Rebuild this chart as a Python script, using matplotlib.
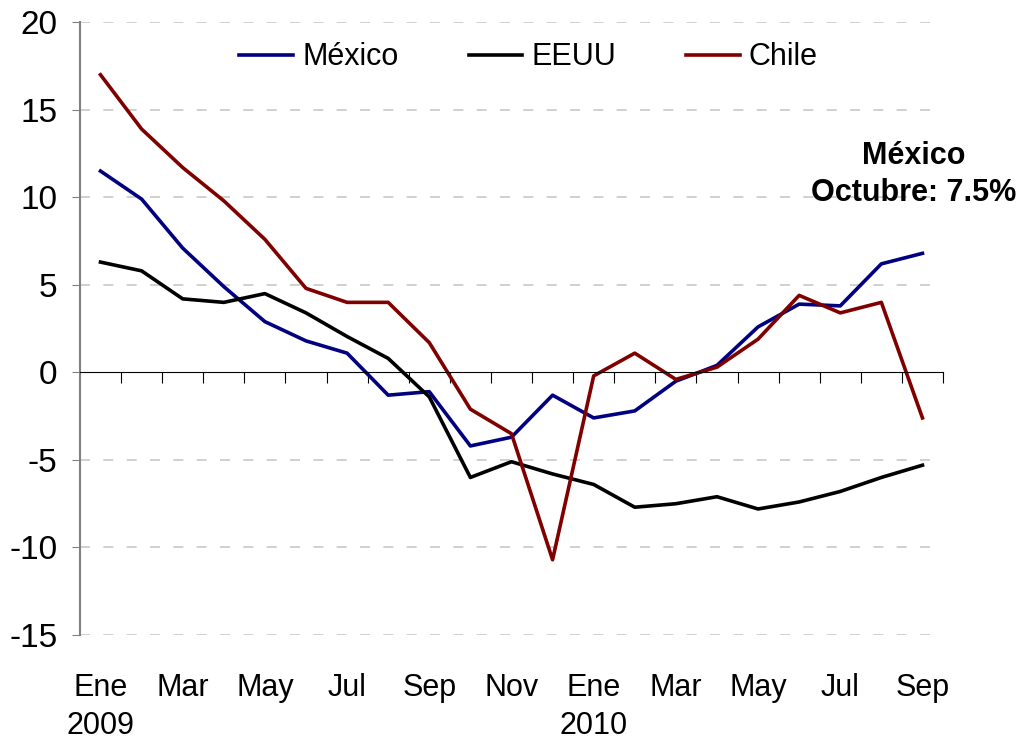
import matplotlib.pyplot as plt
from matplotlib.transforms import blended_transform_factory

plt.rcParams['font.family'] = ['Liberation Sans', 'DejaVu Sans']
plt.rcParams['axes.unicode_minus'] = False

# tasas anuales, ene 2009 - sep 2010
mexico = [11.5, 9.9, 7.1, 4.9, 2.9, 1.8, 1.1, -1.3, -1.1, -4.2, -3.7,
          -1.3, -2.6, -2.2, -0.5, 0.4, 2.6, 3.9, 3.8, 6.2, 6.8]
eeuu = [6.3, 5.8, 4.2, 4.0, 4.5, 3.4, 2.05, 0.8, -1.4, -6.0, -5.1,
        -5.8, -6.4, -7.7, -7.5, -7.1, -7.8, -7.4, -6.8, -6.0, -5.3]
chile = [17.0, 13.9, 11.7, 9.8, 7.6, 4.8, 4.0, 4.0, 1.7, -2.1, -3.5,
         -10.7, -0.2, 1.1, -0.4, 0.3, 1.9, 4.4, 3.4, 4.0, -2.6]
meses = ['Ene\n2009', 'Mar', 'May', 'Jul', 'Sep', 'Nov',
         'Ene\n2010', 'Mar', 'May', 'Jul', 'Sep']

x = list(range(len(mexico)))

fig = plt.figure(figsize=(10.25, 7.41), dpi=100)
ax = fig.add_axes([0.078, 0.143, 0.842, 0.827])

for v in [-15, -10, -5, 5, 10, 15, 20]:
    ax.axhline(v, color='#c8c8c8', lw=1.2, ls=(0, (6, 8)), zorder=0)

ax.plot(x, mexico, color='#000080', lw=2.6, label='México')
ax.plot(x, eeuu, color='black', lw=2.6, label='EEUU')
ax.plot(x, chile, color='#800000', lw=2.6, label='Chile')

ax.set_xlim(-0.5, len(x) - 0.5)
ax.set_ylim(-15, 20)
ax.set_yticks(range(-15, 21, 5))
ax.tick_params(axis='y', labelsize=24, length=6, color='#808080', pad=10)

ax.spines['top'].set_visible(False)
ax.spines['right'].set_visible(False)
ax.spines['left'].set_color('#808080')
ax.spines['left'].set_linewidth(1.5)
ax.spines['bottom'].set_position(('data', 0))
ax.spines['bottom'].set_color('black')
ax.set_xticks([i + 0.5 for i in x])
ax.set_xticklabels([])
ax.tick_params(axis='x', length=8, color='black', direction='out')

tr = blended_transform_factory(ax.transData, ax.transAxes)
for k, m in enumerate(meses):
    ax.text(2 * k, -0.062, m, transform=tr, ha='center', va='top',
            fontsize=22, linespacing=1.35)

ax.legend(loc='upper center', bbox_to_anchor=(0.52, 1.012), ncol=3,
          frameon=False, fontsize=22, handlelength=1.75, columnspacing=2.3,
          handletextpad=0.3)

ax.text(0.966, 0.752, 'México\nOctubre: 7.5%', transform=ax.transAxes,
        ha='center', va='center', fontsize=22, fontweight='bold',
        linespacing=1.3, clip_on=False)

fig.savefig('out.png', dpi=100)
